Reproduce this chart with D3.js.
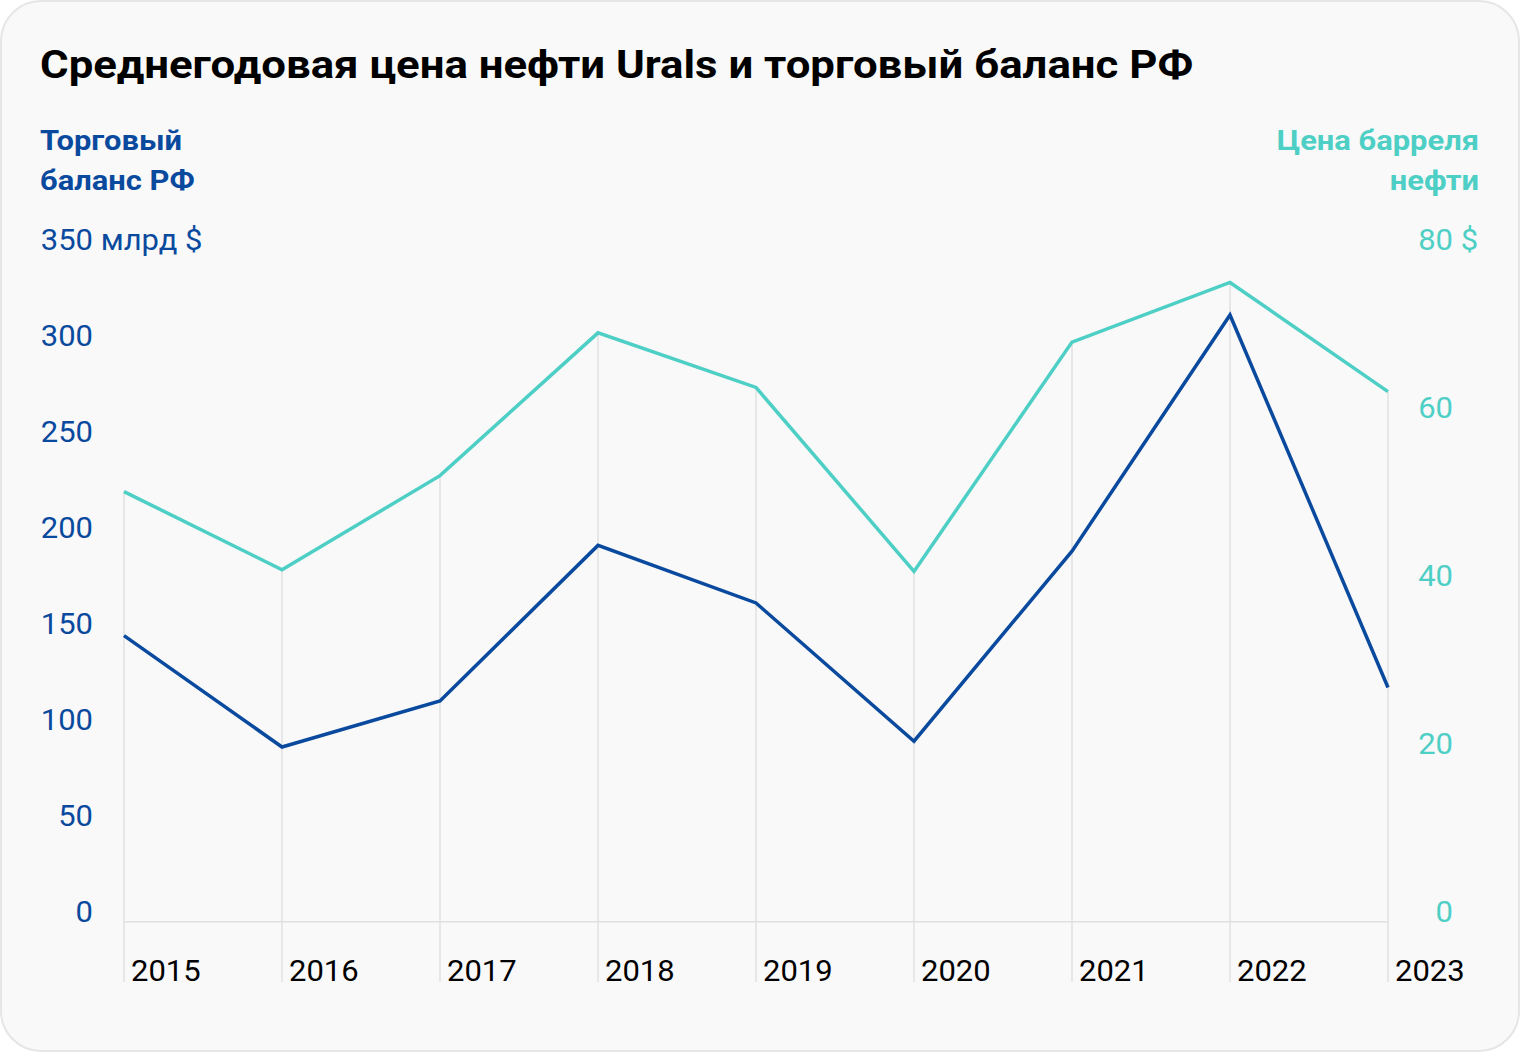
<!DOCTYPE html>
<html>
<head>
<meta charset="utf-8">
<script src="https://cdn.jsdelivr.net/npm/d3@7"></script>
<style>
  body { margin: 0; background: #fff; }
  svg { display: block; font-family: Roboto, "Noto Sans", sans-serif; }
</style>
</head>
<body>
<script>
// Width and height
var w = 1520;
var h = 1052;

var years = ["2015", "2016", "2017", "2018", "2019", "2020", "2021", "2022", "2023"];
var balance = [149, 91, 115, 196, 166, 94, 193, 316, 122];   // млрд $
var urals = [51.2, 41.9, 53.1, 70.1, 63.6, 41.7, 69.0, 76.1, 63.1]; // $ за баррель
var balanceTicks = [0, 50, 100, 150, 200, 250, 300, 350];
var uralsTicks = [0, 20, 40, 60, 80];

var blue = "#0a4a9e";
var teal = "#4ecfc5";
var font = "Roboto, sans-serif";
var fs = 29.5;
var sxReg = "scale(1.05,1)";   // шрифт в оригинале чуть шире Roboto

var svg = d3.select("body")
    .append("svg")
    .attr("width", w)
    .attr("height", h);

// card
svg.append("rect")
    .attr("x", 1).attr("y", 1)
    .attr("width", w - 2).attr("height", h - 2)
    .attr("rx", 40)
    .attr("fill", "#f9f9f9")
    .attr("stroke", "#e6e6e6")
    .attr("stroke-width", 2);

var x = d3.scalePoint().domain(years).range([124, 1388]);
var yL = d3.scaleLinear().domain([0, 350]).range([921.7, 249.7]);
var yR = d3.scaleLinear().domain([0, 80]).range([921.7, 249.7]);

// title
svg.append("text")
    .attr("transform", "translate(40,78) scale(1.108,1)")
    .attr("font-size", 39.5)
    .attr("font-weight", 700)
    .attr("fill", "#000")
    .text("Среднегодовая цена нефти Urals и торговый баланс РФ");

// axis titles
svg.selectAll(".ltitle")
    .data(["Торговый", "баланс РФ"])
    .enter().append("text")
    .attr("transform", function(d, i) { return "translate(40," + (150 + i * 40) + ") scale(1.085,1)"; })
    .attr("font-size", 28.5)
    .attr("font-weight", 700)
    .attr("fill", blue)
    .text(function(d) { return d; });

svg.selectAll(".rtitle")
    .data(["Цена барреля", "нефти"])
    .enter().append("text")
    .attr("transform", function(d, i) { return "translate(1479," + (150 + i * 40) + ") scale(1.085,1)"; })
    .attr("text-anchor", "end")
    .attr("font-size", 28.5)
    .attr("font-weight", 700)
    .attr("fill", teal)
    .text(function(d) { return d; });

// vertical gridlines (from top point down to year labels)
svg.selectAll(".vgrid")
    .data(years)
    .enter().append("line")
    .attr("x1", function(d) { return x(d); })
    .attr("x2", function(d) { return x(d); })
    .attr("y1", function(d, i) { return Math.min(yL(balance[i]), yR(urals[i])); })
    .attr("y2", 982)
    .attr("stroke", "#e0e0e0")
    .attr("stroke-width", 1.5);

// baseline
svg.append("line")
    .attr("x1", x(years[0])).attr("x2", x(years[years.length - 1]))
    .attr("y1", yL(0)).attr("y2", yL(0))
    .attr("stroke", "#e0e0e0")
    .attr("stroke-width", 1.5);

// left axis
var axisL = d3.axisLeft(yL).tickValues(balanceTicks).tickSize(0).tickPadding(0);
var gL = svg.append("g")
    .attr("transform", "translate(93,0)")
    .call(axisL);
gL.select(".domain").remove();
gL.selectAll("text")
    .attr("dy", 0)
    .attr("transform", sxReg)
    .attr("font-size", fs)
    .attr("font-family", font)
    .attr("fill", blue);
gL.selectAll(".tick").filter(function(d) { return d === 350; })
    .append("text")
    .attr("transform", sxReg)
    .attr("text-anchor", "start")
    .attr("font-size", fs)
    .attr("font-family", font)
    .attr("fill", blue)
    .text("\u00a0млрд $");

// right axis
var axisR = d3.axisRight(yR).tickValues(uralsTicks).tickSize(0).tickPadding(0);
var gR = svg.append("g")
    .attr("transform", "translate(1453,0)")
    .call(axisR);
gR.select(".domain").remove();
gR.selectAll("text")
    .attr("dy", 0)
    .attr("transform", sxReg)
    .attr("text-anchor", "end")
    .attr("font-size", fs)
    .attr("font-family", font)
    .attr("fill", teal);
gR.selectAll(".tick").filter(function(d) { return d === 80; })
    .append("text")
    .attr("transform", sxReg)
    .attr("text-anchor", "start")
    .attr("font-size", fs)
    .attr("font-family", font)
    .attr("fill", teal)
    .text("\u00a0$");

// year labels
svg.selectAll(".year")
    .data(years)
    .enter().append("text")
    .attr("transform", function(d) { return "translate(" + (x(d) + 7) + ",981) " + sxReg; })
    .attr("font-size", fs)
    .attr("fill", "#000")
    .text(function(d) { return d; });

// lines
var lineL = d3.line()
    .x(function(d, i) { return x(years[i]); })
    .y(function(d) { return yL(d); });
var lineR = d3.line()
    .x(function(d, i) { return x(years[i]); })
    .y(function(d) { return yR(d); });

svg.append("path")
    .datum(urals)
    .attr("d", lineR)
    .attr("fill", "none")
    .attr("stroke", teal)
    .attr("stroke-width", 3.5);

svg.append("path")
    .datum(balance)
    .attr("d", lineL)
    .attr("fill", "none")
    .attr("stroke", blue)
    .attr("stroke-width", 3.5);
</script>
</body>
</html>
